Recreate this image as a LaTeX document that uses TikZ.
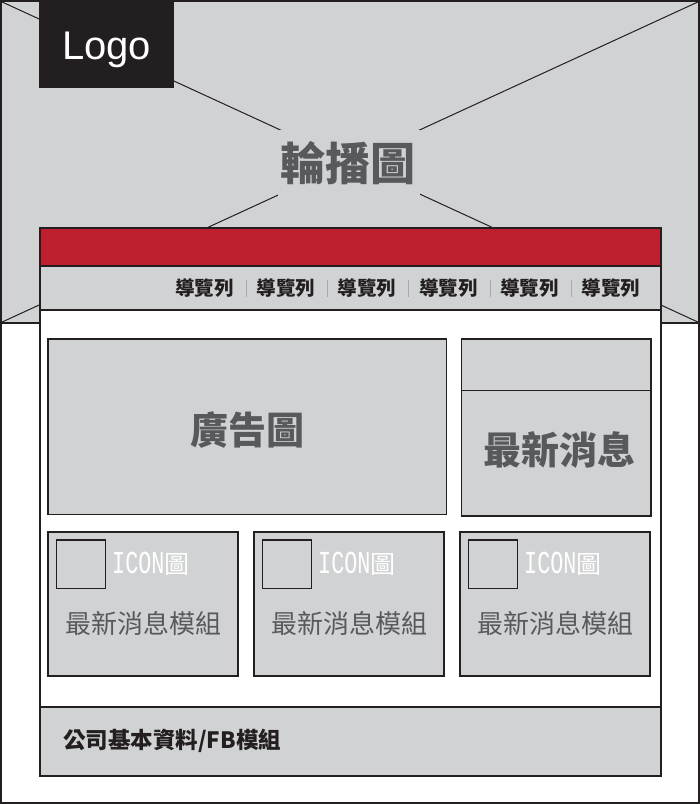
\documentclass[tikz,border=0pt]{standalone}
\usepackage{fontspec}
\usepackage{graphicx}
\newfontfamily\cjk{Noto Sans CJK TC}
\newfontfamily\latf{Liberation Sans}
\newfontfamily\monof{Liberation Mono}
\definecolor{pgray}{HTML}{D1D2D4}
\definecolor{pred}{HTML}{BE1E2D}
\definecolor{pblack}{HTML}{231F20}
\definecolor{tgray}{HTML}{58595B}
\definecolor{sepgray}{HTML}{A7A9AC}
\begin{document}
\begin{tikzpicture}[x=1pt,y=-1pt,
  box/.style={draw=pblack, line width=1.6pt, fill=pgray, inner sep=0pt},
  band/.style={draw=pblack, line width=1.8pt, inner sep=0pt, minimum width=621pt, anchor=north west},
  navitem/.style={font=\cjk\bfseries\fontsize{19.5}{20}\selectfont, text=pblack, inner sep=0pt},
  modtext/.style={font=\cjk\fontsize{26}{26}\selectfont, text=tgray, inner sep=0pt},
  icontext/.style={font=\monof\fontsize{32}{32}\selectfont, text=white, inner sep=0pt, anchor=west},
  iconbox/.style={box, minimum width=49pt, minimum height=48.5pt},
  modbox/.style={box, minimum width=190pt, minimum height=144pt},
]
\useasboundingbox (0,0) rectangle (700,804);
\fill[white] (0,0) rectangle (700,804);
% banner
\coordinate (btl) at (0,1);
\coordinate (btr) at (700,1);
\coordinate (bbl) at (0,323);
\coordinate (bbr) at (700,323);
\fill[pgray] (0,0) rectangle (bbr);
\draw[pblack, line width=1pt] (btl) -- (bbr);
\draw[pblack, line width=1pt] (bbl) -- (btr);
\draw[pblack, line width=1.2pt] (bbl) -- (bbr);
\node[fill=pgray, minimum width=142pt, minimum height=66pt, inner sep=0pt] (titlebg) at (349,162.5) {};
\node[font=\cjk\bfseries\fontsize{45}{45}\selectfont, text=tgray, inner sep=0pt] (title) at (347.5,163) {輪播圖};
% outer frame
\draw[pblack, line width=1.6pt] (0.8,0.8) rectangle (699.2,803.2);
% logo
\node[fill=pblack, minimum width=135pt, minimum height=88pt, inner sep=0pt, anchor=north west] (logobox) at (39,0) {};
\node[font=\latf\fontsize{40}{40}\selectfont, text=white, inner sep=0pt, text height=29pt, text depth=0pt] (logo) at (106.5,44.5) {Logo};
% main content
\node[band, fill=white, minimum height=548pt] (main) at (39,227) {};
\node[band, fill=pred, minimum height=38pt] (redbar) at (39,227) {};
\node[band, fill=pgray, minimum height=44pt] (nav) at (39,265) {};
\node[band, fill=pgray, minimum height=69pt] (footer) at (39,706) {};
% nav items
\foreach \k in {0,...,5} {
  \node[navitem] (nav\k) at ({204.5+81.3*\k},288) {導覽列};
}
\foreach \k in {0,...,4} {
  \draw[sepgray, line width=0.8pt] ({246+81.3*\k},280) -- ({246+81.3*\k},297);
}
% ad box
\node[box, minimum width=398.5pt, minimum height=175.5pt] (ad) at (247.25,426.75) {};
\node[font=\cjk\bfseries\fontsize{38}{38}\selectfont, text=tgray, inner sep=0pt] (adtext) at (247.5,430) {廣告圖};
% news box
\node[box, minimum width=189.5pt, minimum height=51.5pt] (newstop) at (556.25,364.75) {};
\node[box, minimum width=189.5pt, minimum height=125.5pt] (news) at (556.25,453.25) {};
\node[font=\cjk\bfseries\fontsize{38}{38}\selectfont, text=tgray, inner sep=0pt] (newstext) at (559.5,450.5) {最新消息};
% modules
\foreach \i/\cx in {1/143,2/349,3/555} {
  \node[modbox] (mod\i) at (\cx,604) {};
  \node[iconbox] (icon\i) at ({\cx-62},564.25) {};
  \node[icontext] (icontext\i) at ({\cx-31},564) {\scalebox{0.68}[1]{ICON}\cjk\fontsize{25}{25}\selectfont 圖};
  \node[modtext] (modtext\i) at (\cx,624) {最新消息模組};
}
% footer
\node[font=\cjk\bfseries\fontsize{22.5}{23}\selectfont, text=pblack, inner sep=0pt, anchor=west] (foottext) at (63,741) {公司基本資料/FB模組};
\end{tikzpicture}
\end{document}
